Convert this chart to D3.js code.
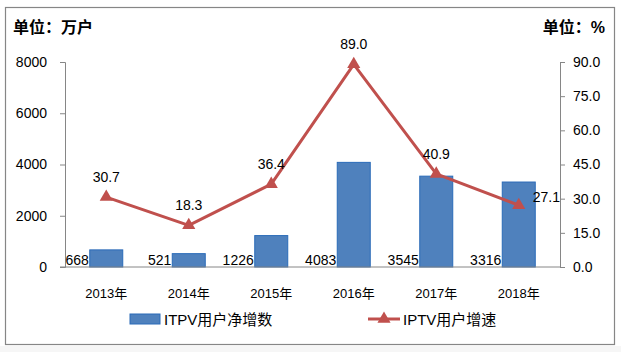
<!DOCTYPE html>
<html>
<head>
<meta charset="utf-8">
<script src="https://cdn.jsdelivr.net/npm/d3@7"></script>
<style>
  body { margin: 0; background: #f6f6f6; }
  svg { display: block; }
  text { font-family: "Liberation Sans", "Noto Sans CJK SC", sans-serif; fill: #000; }
</style>
</head>
<body>
<svg id="chart" width="621" height="352"></svg>
<script>
// data
const years = ["2013年", "2014年", "2015年", "2016年", "2017年", "2018年"];
const netAdds = [668, 521, 1226, 4083, 3545, 3316];      // ITPV用户净增数, 万户
const growth = [30.7, 18.3, 36.4, 89.0, 40.9, 27.1];     // IPTV用户增速, %
const leftTicks = [0, 2000, 4000, 6000, 8000];
const rightTicks = [0, 15, 30, 45, 60, 75, 90];

const svg = d3.select("#chart");
const margin = { top: 62, right: 61, bottom: 85, left: 65 };
const W = 621, H = 352;
const x0 = margin.left, x1 = W - margin.right;
const y0 = 267, y1 = margin.top;

// frame
svg.append("rect").attr("x", 0).attr("y", 0).attr("width", W).attr("height", 346).attr("fill", "#fff");
svg.append("rect").attr("x", 5.5).attr("y", 7.5).attr("width", 609).attr("height", 337)
    .attr("fill", "#fff").attr("stroke", "#868686").attr("stroke-width", 1.2);

const xPoint = d3.scalePoint().domain(years).range([x0, x1]).padding(0.5);
const yLeft = d3.scaleLinear().domain([0, 8000]).range([y0, y1]);
const yRight = d3.scaleLinear().domain([0, 90]).range([y0, y1]);
const barW = 33;

// left axis
const leftAxis = svg.append("g").attr("transform", `translate(${x0},0)`)
    .call(d3.axisLeft(yLeft).tickValues(leftTicks).tickSize(5).tickPadding(13).tickFormat(d3.format("d")));
// right axis
const rightAxis = svg.append("g").attr("transform", `translate(${x1},0)`)
    .call(d3.axisRight(yRight).tickValues(rightTicks).tickSize(5).tickPadding(8).tickFormat(d3.format(".1f")));
[leftAxis, rightAxis].forEach(a => {
    a.select(".domain").attr("stroke", "#868686");
    a.selectAll(".tick line").attr("stroke", "#868686");
    a.selectAll("text").attr("font-size", 14).attr("fill", "#000")
        .attr("font-family", "Liberation Sans, sans-serif");
});

// bars
svg.append("g").selectAll("rect")
    .data(netAdds)
    .enter()
    .append("rect")
        .attr("x", (d, i) => xPoint(years[i]) - barW / 2)
        .attr("y", d => yLeft(d))
        .attr("width", barW)
        .attr("height", d => y0 - yLeft(d))
        .attr("fill", "#4F81BD")
        .attr("stroke", "#2A6BB8")
        .attr("stroke-width", 1);

// x axis line
svg.append("line").attr("x1", x0 - 5).attr("x2", x1).attr("y1", y0).attr("y2", y0)
    .attr("stroke", "#868686");

// bar labels, to the left of each bar
svg.append("g").selectAll("text")
    .data(netAdds)
    .enter()
    .append("text")
        .attr("x", (d, i) => xPoint(years[i]) - barW / 2 - 1)
        .attr("y", y0 - 2)
        .attr("text-anchor", "end")
        .attr("font-size", 14)
        .text(d => d);

// x labels
svg.append("g").selectAll("text")
    .data(years)
    .enter()
    .append("text")
        .attr("x", d => xPoint(d))
        .attr("y", 298)
        .attr("text-anchor", "middle")
        .attr("font-size", 13)
        .text(d => d);

// growth line
const line = d3.line()
    .x((d, i) => xPoint(years[i]))
    .y(d => yRight(d));
svg.append("path").datum(growth)
    .attr("d", line)
    .attr("fill", "none")
    .attr("stroke", "#C0504D")
    .attr("stroke-width", 3)
    .attr("stroke-linejoin", "round");

const tri = d3.symbol().type(d3.symbolTriangle).size(75);
svg.append("g").selectAll("path")
    .data(growth)
    .enter()
    .append("path")
        .attr("d", tri)
        .attr("transform", (d, i) => `translate(${xPoint(years[i])},${yRight(d)})`)
        .attr("fill", "#C0504D");

const last = growth.length - 1;
svg.append("g").selectAll("text")
    .data(growth)
    .enter()
    .append("text")
        .attr("x", (d, i) => i === last ? xPoint(years[i]) + 14 : xPoint(years[i]))
        .attr("y", (d, i) => i === last ? yRight(d) - 3 : yRight(d) - 15)
        .attr("text-anchor", (d, i) => i === last ? "start" : "middle")
        .attr("font-size", 14)
        .text(d => d.toFixed(1));

// unit titles
svg.append("text").attr("x", 13).attr("y", 33).attr("font-size", 16).attr("font-weight", "bold")
    .attr("font-family", "Noto Sans CJK SC, sans-serif").text("单位：万户");
svg.append("text").attr("x", 605).attr("y", 33).attr("font-size", 16).attr("font-weight", "bold")
    .attr("text-anchor", "end").attr("font-family", "Noto Sans CJK SC, sans-serif").text("单位：%");

// legend
const legend = svg.append("g");
legend.append("rect").attr("x", 130).attr("y", 314).attr("width", 30).attr("height", 10)
    .attr("fill", "#4F81BD").attr("stroke", "#2A6BB8");
legend.append("text").attr("x", 164).attr("y", 325).attr("font-size", 15).text("ITPV用户净增数");
legend.append("line").attr("x1", 368).attr("x2", 400).attr("y1", 319).attr("y2", 319)
    .attr("stroke", "#C0504D").attr("stroke-width", 3);
legend.append("path").attr("d", tri).attr("transform", "translate(384,319)").attr("fill", "#C0504D");
legend.append("text").attr("x", 403).attr("y", 325).attr("font-size", 15).text("IPTV用户增速");
</script>
</body>
</html>
